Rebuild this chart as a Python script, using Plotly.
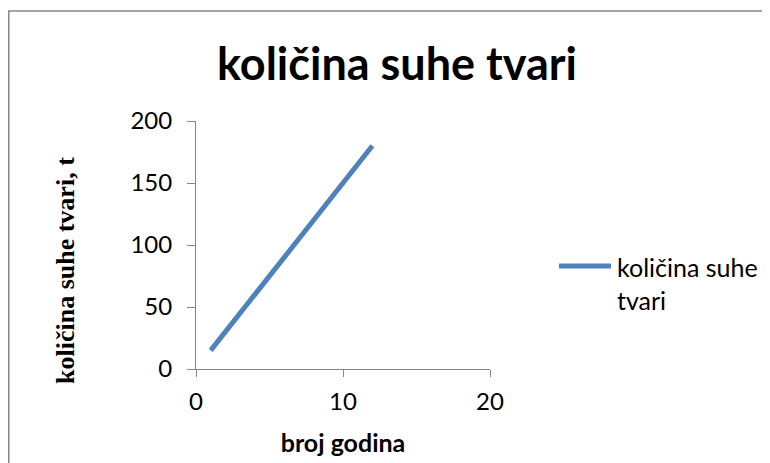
import plotly.graph_objects as go

godine = [1, 2, 3, 4, 5, 6, 7, 8, 9, 10, 11, 12]
kolicina = [15, 30, 45, 60, 75, 90, 105, 120, 135, 150, 165, 180]
x_ticks = [0, 10, 20]
y_ticks = [0, 50, 100, 150, 200]
series_name = "količina suhe<br>tvari"
line_color = "#4F81BD"

W, H = 770, 463
OFF = 8  # page offset of the figure in the screenshot
L, T = 196 - OFF, 121 - OFF
pw, ph = 294, 248
R, B = W - L - pw, H - T - ph

def px_x(p):  # screen x -> paper
    return (p - OFF - L) / pw

def px_y(p):  # screen y -> paper
    return (T + ph - (p - OFF)) / ph

sans = "Lato, Open Sans, sans-serif"

fig = go.Figure()
fig.add_trace(go.Scatter(
    x=godine, y=kolicina, mode="lines", name=series_name,
    line=dict(color=line_color, width=5), showlegend=False,
))

axis_common = dict(
    showgrid=False, zeroline=False, showline=True,
    linecolor="#868686", linewidth=1,
    ticks="outside", tickcolor="#868686", tickwidth=1,
    tickfont=dict(family=sans, size=24, color="black"),
    fixedrange=True,
)

fig.update_layout(
    width=W, height=H,
    margin=dict(l=L, r=R, t=T, b=B),
    paper_bgcolor="white", plot_bgcolor="white",
    title=dict(
        text="<b>količina suhe tvari</b>",
        font=dict(family=sans, size=45, color="black"),
        x=px_x(397), xref="paper", xanchor="center",
        y=1 - (64 - OFF) / H, yref="container", yanchor="middle",
    ),
    xaxis=dict(
        range=[0, 20], tickvals=x_ticks, ticklen=7, ticklabelstandoff=4,
        **axis_common,
        title=dict(text="<b>broj godina</b>",
                   font=dict(family=sans, size=25, color="black"),
                   standoff=20),
    ),
    yaxis=dict(
        range=[0, 200], tickvals=y_ticks, ticklen=8, ticklabelstandoff=10,
        **axis_common,
    ),
    showlegend=False,
    shapes=[
        dict(
            type="rect", xref="paper", yref="paper",
            x0=px_x(8.75), x1=px_x(800), y0=px_y(500), y1=px_y(11),
            line=dict(color="#868686", width=1.5), fillcolor="rgba(0,0,0,0)",
            layer="below",
        ),
        dict(
            type="line", xref="paper", yref="paper",
            x0=px_x(559), x1=px_x(611), y0=px_y(266), y1=px_y(266),
            line=dict(color=line_color, width=5),
        ),
    ],
    annotations=[
        dict(
            text=series_name, xref="paper", yref="paper",
            x=px_x(615), y=px_y(283), xanchor="left", yanchor="middle",
            align="left", showarrow=False,
            font=dict(family=sans, size=25, color="black"),
        ),
        dict(
            text="<b>količina suhe tvari, t</b>", xref="paper", yref="paper",
            x=px_x(65), y=px_y(271), xanchor="center", yanchor="middle",
            textangle=-90, showarrow=False,
            font=dict(family="Liberation Serif, Times New Roman, serif", size=26, color="black"),
        ),
    ],
)

fig.write_html("out.html")
